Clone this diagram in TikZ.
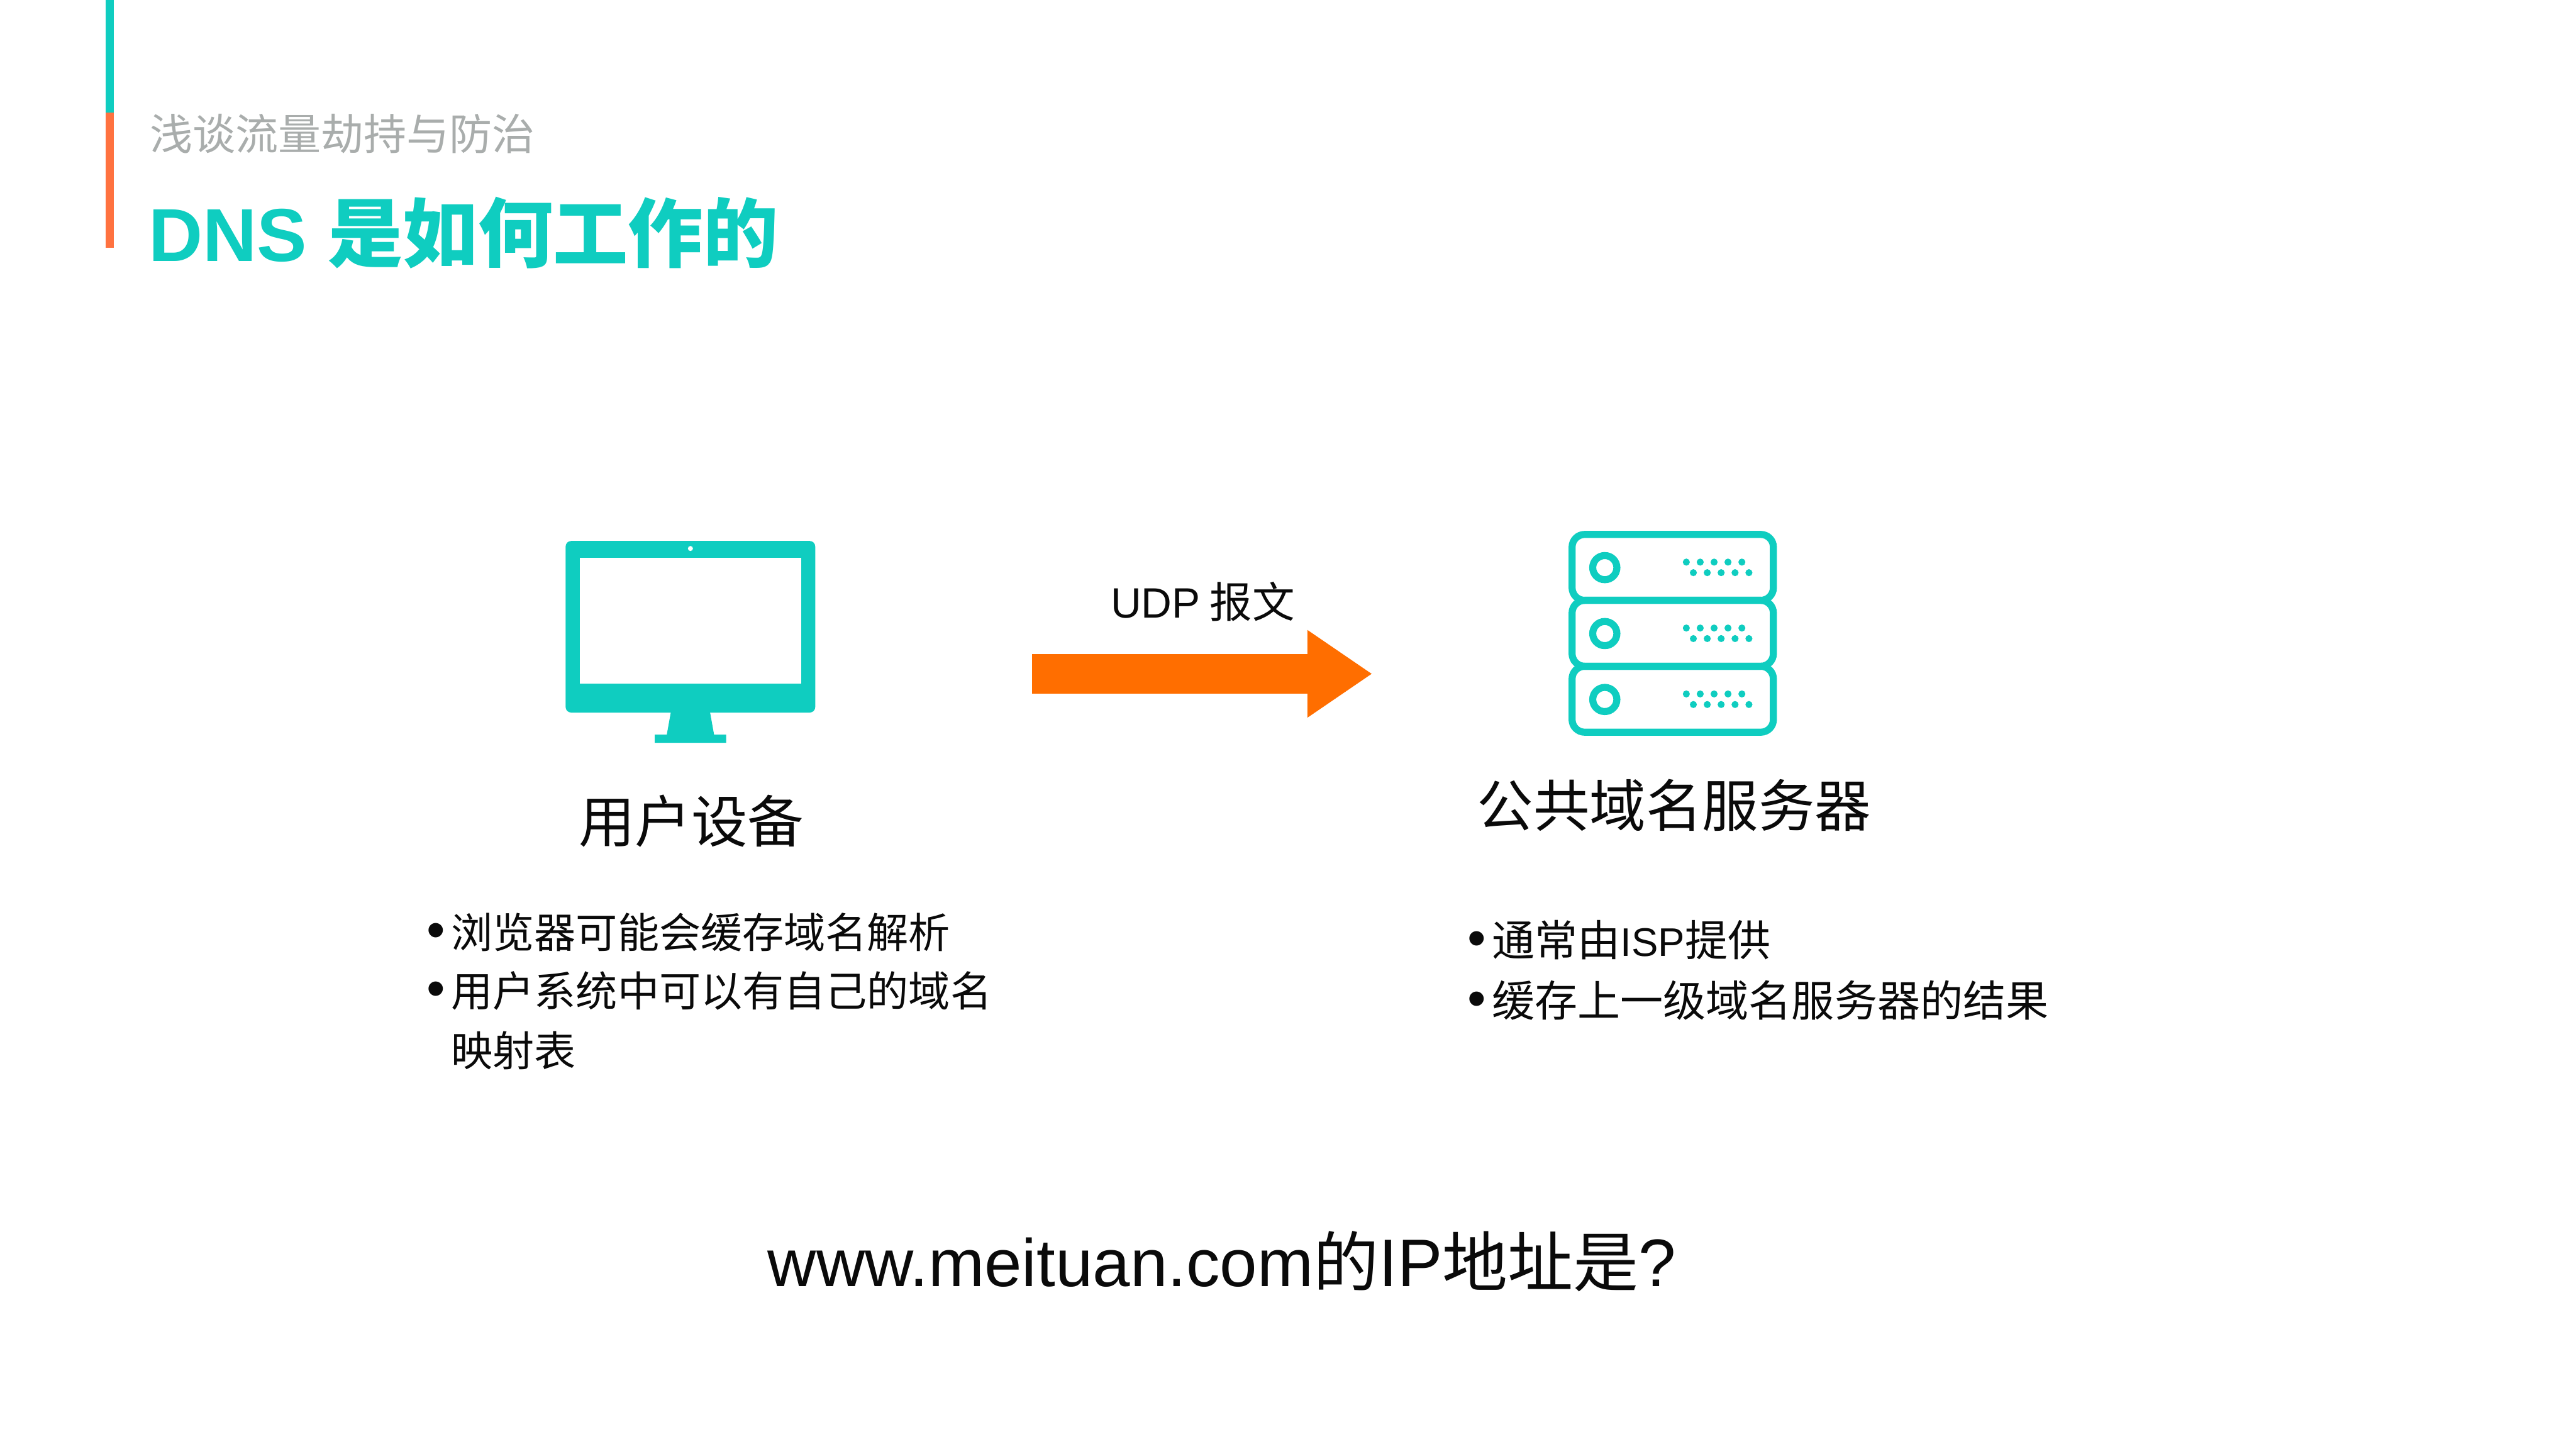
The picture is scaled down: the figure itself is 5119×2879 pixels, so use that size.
\documentclass[tikz,border=0pt]{standalone}
\usepackage{fontspec}
\setmainfont{Noto Sans CJK SC}
\newfontfamily\latinface{Liberation Sans}
\usetikzlibrary{arrows.meta}
\definecolor{meituanteal}{HTML}{0FCDC0}
\definecolor{barorange}{HTML}{FF7240}
\definecolor{arroworange}{HTML}{FF6E00}
\definecolor{subgray}{HTML}{A9ADAC}
\definecolor{bodyblack}{HTML}{0A0A0A}
\tikzset{
    subtitletext/.style={right,inner sep=0pt,text=subgray,font=\fontsize{24.2}{28}\selectfont},
    titletext/.style={right,inner sep=0pt,text=meituanteal,font=\fontsize{42.4}{48}\selectfont\bfseries},
    labeltext/.style={inner sep=0pt,text=bodyblack,font=\fontsize{31.8}{36}\selectfont},
    listtext/.style={right,inner sep=0pt,text=bodyblack,font=\fontsize{23.5}{28}\selectfont},
    serverlisttext/.style={listtext,font=\fontsize{24.2}{28}\selectfont},
    questiontext/.style={right,inner sep=0pt,text=bodyblack,font=\fontsize{37}{42}\selectfont},
    udptext/.style={inner sep=0pt,text=bodyblack,font=\fontsize{24}{28}\selectfont},
    rackline/.style={draw=meituanteal,line width=0.14cm},
}
\newcommand{\lat}[1]{{\latinface #1}}
\newcommand{\biglat}[1]{{\latinface\fontsize{38}{42}\selectfont #1}}
\newcommand{\smalllat}[1]{{\latinface\fontsize{22.6}{28}\selectfont #1}}
\newcommand{\dotitem}{\makebox[0pt][r]{\latinface\fontsize{30}{28}\selectfont\textbullet\hspace{3.4pt}}}
\begin{document}
\begin{tikzpicture}[x=0.01cm,y=-0.01cm]
    \useasboundingbox (0,0) rectangle (5119,2879);
    \fill[white] (0,0) rectangle (5119,2879);

    % header
    \fill[meituanteal] (210,0) rectangle (226,224);
    \fill[barorange] (210,224) rectangle (226,492);
    \node[subtitletext] (subtitle) at (297,266) {浅谈流量劫持与防治};
    \node[titletext] (title) at (295,463) {\lat{DNS}\hspace{2pt} 是如何工作的};

    % monitor
    \fill[meituanteal,rounded corners=0.11cm] (1124,1075) rectangle (1620,1416);
    \fill[meituanteal] (1334,1410) -- (1410,1410) -- (1419,1460) -- (1443,1460) -- (1443,1476) -- (1301,1476) -- (1301,1460) -- (1325,1460) -- cycle;
    \fill[white] (1152,1108) rectangle (1592,1358);
    \fill[white] (1372,1090) circle[radius=5];
    \node[labeltext] (device) at (1374,1632) {用户设备};
    \node[listtext] (deviceone) at (896,1852) {\dotitem 浏览器可能会缓存域名解析};
    \node[listtext] (devicetwo) at (896,1969) {\dotitem 用户系统中可以有自己的域名};
    \node[listtext] (devicethree) at (896,2087) {映射表};

    % arrow
    \coordinate (arrowfrom) at (2051,1339);
    \coordinate (arrowto) at (2727,1339);
    \draw[arroworange,line width=0.78cm,-{Triangle[length=1.29cm,width=1.65cm]}] (arrowfrom) -- (arrowto);
    \node[udptext] (udp) at (2390,1195) {\lat{UDP} 报文};

    % server
    \foreach \i in {0,1,2} {
        \draw[rackline,rounded corners=0.25cm] (3124,1062+131*\i) rectangle (3524,1193+131*\i);
        \draw[rackline] (3189,1128+131*\i) circle[radius=24];
        \foreach \j in {0,...,4} {
            \fill[meituanteal] (3351+27.6*\j,1117+131*\i) circle[radius=7];
            \fill[meituanteal] (3365+27.6*\j,1138+131*\i) circle[radius=7];
        }
    }
    \node[labeltext] (dnsserver) at (3327,1600) {公共域名服务器};
    \node[serverlisttext] (serverone) at (2964,1868) {\dotitem 通常由\smalllat{ISP}提供};
    \node[serverlisttext] (servertwo) at (2964,1988) {\dotitem 缓存上一级域名服务器的结果};

    % question
    \node[questiontext] (question) at (1525,2507) {\biglat{www.meituan.com}的\biglat{IP}地址是\biglat{?}};
\end{tikzpicture}
\end{document}
